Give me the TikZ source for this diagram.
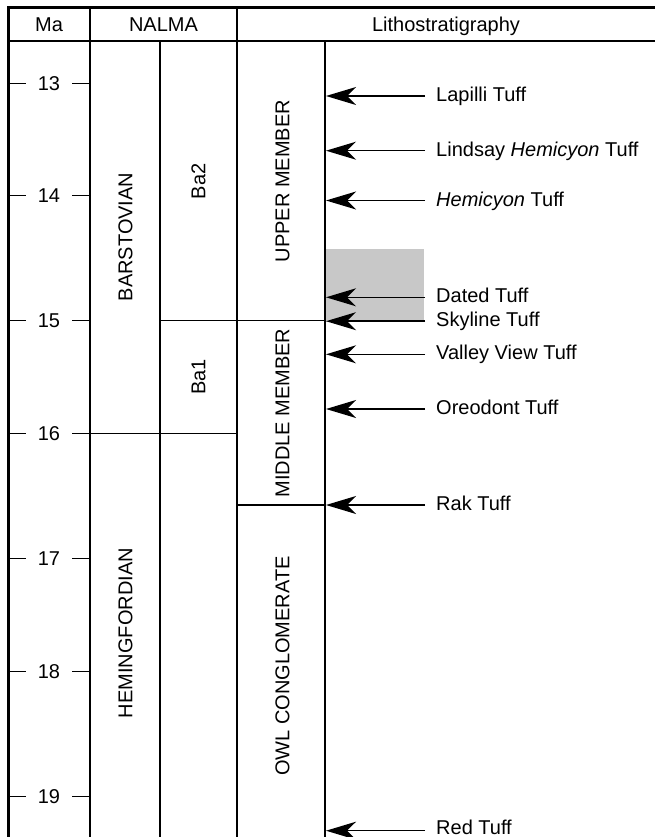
\documentclass[tikz,border=0pt]{standalone}
\usepackage{fontspec}
\setmainfont{Liberation Sans}
\usetikzlibrary{arrows.meta}
\definecolor{band}{RGB}{200,200,200}
\begin{document}
\begin{tikzpicture}[x=1pt,y=-1pt,
  rule/.style={line width=1.5pt},
  border/.style={line width=3pt, line join=miter},
  headrule/.style={line width=2pt},
  lbl/.style={font=\fontsize{20}{24}\selectfont, inner sep=0pt},
  vlbl/.style={lbl, rotate=90},
  tuff/.style={-{Stealth[length=30pt,width=18pt,inset=9pt]}, line width=1.5pt},
  tufflbl/.style={lbl, anchor=base west}]
\useasboundingbox (0,0) rectangle (655,837);
\clip (0,0) rectangle (655,837);

% dated interval band
\fill[band] (326,249.3) rectangle (424.3,322);

% outer frame and header
\draw[border] (8,840) -- (8,7.5) -- (660,7.5);
\draw[headrule] (8,41) -- (660,41);
\node[lbl, anchor=base] (hma) at (49,31.4) {Ma};
\node[lbl, anchor=base] (hnalma) at (163.5,31.4) {NALMA};
\node[lbl, anchor=base] (hlitho) at (446,31.4) {Lithostratigraphy};

% column rules
\draw[rule] (90,7.5) -- (90,840);
\draw[rule] (237,7.5) -- (237,840);
\draw[rule] (160,41) -- (160,840);
\draw[rule] (325,41) -- (325,840);

% unit boundaries
\draw[rule] (160,320.7) -- (325,320.7);
\draw[rule] (90,433.3) -- (237,433.3);
\draw[rule] (237,505) -- (325,505);

% age scale
\foreach \m/\y in {13/83.3,14/195.7,15/320.7,16/433.3,17/558.3,18/671.7,19/796.7}{
  \draw[rule] (8,\y) -- (26,\y);
  \draw[rule] (72,\y) -- (90,\y);
  \node[lbl] (ma\m) at (49,\y) {\m};
}

% NALMA units
\node[vlbl] (barst) at (125.5,237) {BARSTOVIAN};
\node[vlbl] (hemf) at (125.5,633) {HEMINGFORDIAN};
\node[vlbl] (ba2) at (198.5,181.5) {Ba2};
\node[vlbl] (ba1) at (198.5,377) {Ba1};

% members
\node[vlbl] (upper) at (282.5,181) {UPPER MEMBER};
\node[vlbl] (middle) at (282.5,413) {MIDDLE MEMBER};
\node[vlbl] (owl) at (282.5,666) {OWL CONGLOMERATE};

% tuff markers: name / level / label / baseline drop below the arrow
\foreach \id/\y/\txt/\dy in {lap/96/{Lapilli Tuff}/5.6,
                         lin/150.7/{Lindsay \textit{Hemicyon} Tuff}/5.6,
                         hem/200.5/{\textit{Hemicyon} Tuff}/5.6,
                         dat/297.3/{Dated Tuff}/5.6,
                         sky/321.2/{Skyline Tuff}/5.6,
                         val/354.3/{Valley View Tuff}/5.6,
                         ore/409/{Oreodont Tuff}/5.6,
                         rak/505/{Rak Tuff}/5.6,
                         red/830.7/{Red Tuff}/3.8}{
  \coordinate (\id tail) at (425,\y);
  \coordinate (\id tip) at (326,\y);
  \draw[tuff] (\id tail) -- (\id tip);
  \node[tufflbl] (\id) at (436,\y+\dy) {\txt};
}
\end{tikzpicture}
\end{document}
